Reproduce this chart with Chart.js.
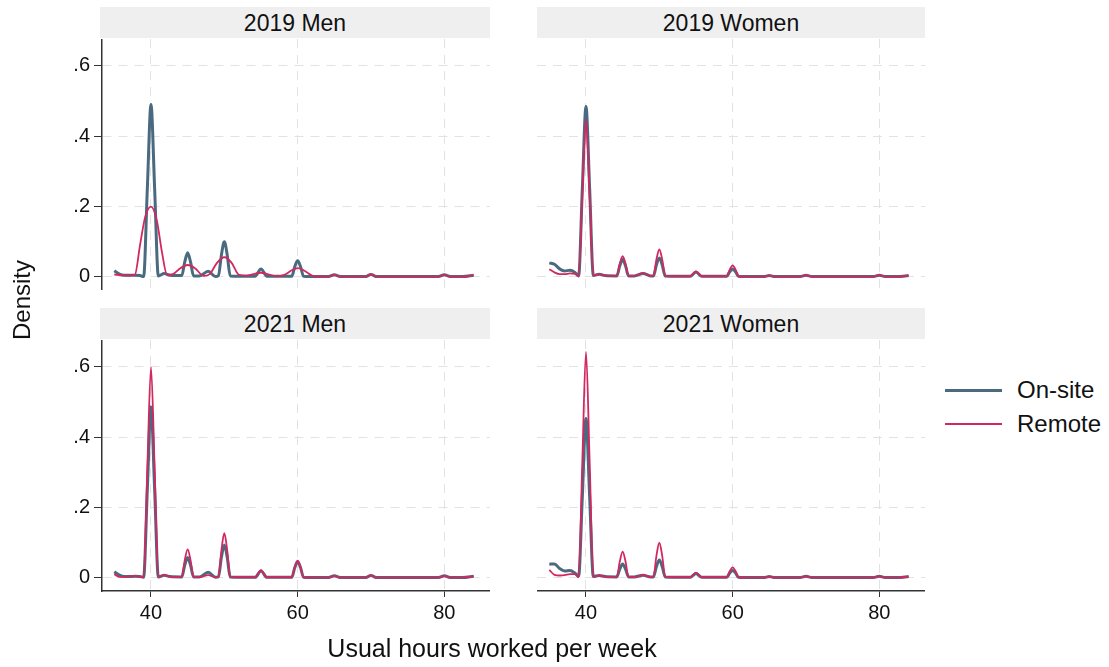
<!DOCTYPE html>
<html>
<head>
<meta charset="utf-8">
<script src="https://cdn.jsdelivr.net/npm/chart.js@4.4.1/dist/chart.umd.min.js"></script>
<style>
  body { margin: 0; background: #fff; font-family: "Liberation Sans", Arial, sans-serif; color: #111; }
  #page { position: relative; width: 1109px; height: 667px; overflow: hidden; }
  canvas { position: absolute; }
  .band { position: absolute; background: #efefef; height: 31px; font-size: 23px; line-height: 33px; text-align: center; color: #111; }
  .lbl { position: absolute; font-size: 25px; color: #111; white-space: nowrap; }
  .key { position: absolute; width: 57px; }
</style>
</head>
<body>
<div id="page">
  <div class="band" style="left:100px;top:7px;width:390px;">2019 Men</div>
  <div class="band" style="left:537px;top:7px;width:388px;">2019 Women</div>
  <div class="band" style="left:100px;top:308px;width:390px;">2021 Men</div>
  <div class="band" style="left:537px;top:308px;width:388px;">2021 Women</div>

  <canvas id="m19" width="460" height="251" style="left:30px;top:39px;"></canvas>
  <canvas id="w19" width="388" height="251" style="left:537px;top:39px;"></canvas>
  <canvas id="m21" width="460" height="301" style="left:30px;top:340px;"></canvas>
  <canvas id="w21" width="388" height="301" style="left:537px;top:340px;"></canvas>

  <div class="lbl" style="left:-18px;top:286px;transform:rotate(-90deg);transform-origin:center;width:80px;text-align:center;font-size:24px;">Density</div>
  <div class="lbl" style="left:292px;top:634px;width:400px;text-align:center;">Usual hours worked per week</div>

  <div class="key" style="left:945px;top:389px;height:3px;background:#4a6a80;"></div>
  <div class="lbl" style="left:1017px;top:376px;font-size:24px;">On-site</div>
  <div class="key" style="left:945px;top:423px;height:2px;background:#d2285f;"></div>
  <div class="lbl" style="left:1017px;top:410px;font-size:24px;">Remote</div>
</div>
<script>
// hours grid shared by most density curves
const hours = [35, 35.7, 36.4, 37.1, 37.8, 38.5, 39.0, 39.5, 40.0, 40.5, 41.0, 41.8, 42.6,
  44.2, 44.6, 45.0, 45.4, 45.8, 46.6, 47.8, 48.8, 49.2, 49.6, 50.0, 50.4, 50.8, 52.0,
  54.2, 55.0, 55.8, 57.5, 59.2, 59.6, 60.0, 60.4, 60.8, 62.5, 64.2, 65.0, 65.8,
  69.2, 70.0, 70.8, 75.0, 79.2, 80.0, 80.8, 82.5, 84.0];

const men2019OnSite = [0.018, 0.008, 0.005, 0.005, 0.005, 0.004, 0.001, 0.25, 0.490, 0.25, 0.003, 0.010, 0.005,
  0.004, 0.042, 0.069, 0.042, 0.003, 0.003, 0.016, 0.001, 0.004, 0.062, 0.100, 0.062, 0.003, 0.002,
  0.002, 0.023, 0.002, 0.002, 0.002, 0.029, 0.046, 0.029, 0.002, 0.001, 0.001, 0.006, 0.001,
  0.001, 0.007, 0.001, 0.001, 0.001, 0.006, 0.001, 0.001, 0.005];

// 2019 men remote is much smoother, own grid
const hoursMen2019Remote = [35, 36, 37, 37.8, 38.5, 39.2, 40, 40.8, 41.5, 42.2, 43, 44, 45, 46, 47.2,
  48, 49, 50, 51, 52, 53, 55, 57.2, 58.2, 59.2, 60, 60.8, 62.3, 64.2, 65, 65.8,
  69.2, 70, 70.8, 75, 79.2, 80, 80.8, 82.5, 84];
const men2019Remote = [0.007, 0.005, 0.004, 0.006, 0.090, 0.170, 0.200, 0.160, 0.070, 0.006, 0.008, 0.025, 0.034, 0.025, 0.003,
  0.008, 0.040, 0.056, 0.040, 0.006, 0.004, 0.012, 0.002, 0.006, 0.019, 0.025, 0.019, 0.002, 0.001, 0.006, 0.001,
  0.001, 0.007, 0.001, 0.001, 0.001, 0.006, 0.001, 0.001, 0.005];

const women2019OnSite = [0.040, 0.036, 0.023, 0.017, 0.019, 0.013, 0.003, 0.25, 0.484, 0.25, 0.004, 0.008, 0.004,
  0.003, 0.031, 0.050, 0.031, 0.003, 0.003, 0.010, 0.003, 0.003, 0.034, 0.054, 0.034, 0.003, 0.002,
  0.002, 0.014, 0.002, 0.002, 0.002, 0.015, 0.023, 0.015, 0.002, 0.001, 0.001, 0.004, 0.001,
  0.001, 0.005, 0.001, 0.001, 0.001, 0.005, 0.001, 0.001, 0.004];
const women2019Remote = [0.022, 0.013, 0.008, 0.008, 0.010, 0.009, 0.002, 0.23, 0.447, 0.23, 0.004, 0.008, 0.004,
  0.003, 0.037, 0.059, 0.037, 0.003, 0.003, 0.011, 0.003, 0.003, 0.049, 0.078, 0.049, 0.003, 0.002,
  0.002, 0.016, 0.002, 0.002, 0.002, 0.021, 0.033, 0.021, 0.002, 0.001, 0.001, 0.004, 0.001,
  0.001, 0.005, 0.001, 0.001, 0.001, 0.005, 0.001, 0.001, 0.004];

const men2021OnSite = [0.018, 0.008, 0.004, 0.004, 0.005, 0.004, 0.002, 0.25, 0.486, 0.25, 0.003, 0.008, 0.004,
  0.003, 0.036, 0.058, 0.036, 0.003, 0.003, 0.016, 0.002, 0.003, 0.058, 0.094, 0.058, 0.003, 0.002,
  0.002, 0.020, 0.002, 0.002, 0.002, 0.029, 0.046, 0.029, 0.002, 0.001, 0.001, 0.006, 0.001,
  0.001, 0.007, 0.001, 0.001, 0.001, 0.006, 0.001, 0.001, 0.005];
const men2021Remote = [0.011, 0.003, 0.003, 0.005, 0.005, 0.004, 0.002, 0.31, 0.599, 0.31, 0.003, 0.008, 0.004,
  0.003, 0.050, 0.081, 0.050, 0.003, 0.003, 0.008, 0.002, 0.003, 0.078, 0.127, 0.078, 0.003, 0.002,
  0.002, 0.022, 0.002, 0.002, 0.002, 0.030, 0.049, 0.030, 0.002, 0.001, 0.001, 0.006, 0.001,
  0.001, 0.007, 0.001, 0.001, 0.001, 0.006, 0.001, 0.001, 0.005];

const women2021OnSite = [0.039, 0.040, 0.027, 0.020, 0.021, 0.014, 0.005, 0.23, 0.453, 0.23, 0.004, 0.007, 0.004,
  0.003, 0.025, 0.040, 0.025, 0.003, 0.003, 0.008, 0.003, 0.003, 0.032, 0.051, 0.032, 0.003, 0.002,
  0.002, 0.013, 0.002, 0.002, 0.002, 0.014, 0.021, 0.014, 0.002, 0.001, 0.001, 0.004, 0.001,
  0.001, 0.005, 0.001, 0.001, 0.001, 0.005, 0.001, 0.001, 0.004];
const women2021Remote = [0.023, 0.009, 0.007, 0.008, 0.011, 0.011, 0.002, 0.33, 0.642, 0.33, 0.004, 0.007, 0.004,
  0.003, 0.046, 0.075, 0.046, 0.003, 0.003, 0.008, 0.003, 0.003, 0.062, 0.100, 0.062, 0.003, 0.002,
  0.002, 0.015, 0.002, 0.002, 0.002, 0.019, 0.030, 0.019, 0.002, 0.001, 0.001, 0.004, 0.001,
  0.001, 0.005, 0.001, 0.001, 0.001, 0.005, 0.001, 0.001, 0.004];

const xTicks = [40, 60, 80];
const yTicks = [0, 0.2, 0.4, 0.6];
const yTickLabels = ['0', '.2', '.4', '.6'];

const FONT = '"Liberation Sans", Arial, sans-serif';

function pts(xs, ys) {
  return ys.map((y, i) => ({ x: xs[i], y: y }));
}

function noPad(s) {
  s.paddingTop = 0; s.paddingBottom = 0; s.paddingLeft = 0; s.paddingRight = 0;
}

function drawPanel(id, onsite, remote, remoteHours, showY, showX) {
  new Chart(document.getElementById(id), {
    type: 'line',
    data: {
      datasets: [{
        label: 'Remote',
        data: pts(remoteHours, remote),
        borderColor: '#d2285f',
        borderWidth: 1.8,
        order: 0
      }, {
        label: 'On-site',
        data: pts(hours, onsite),
        borderColor: '#4a6a80',
        borderWidth: 3,
        order: 1
      }]
    },
    options: {
      responsive: false,
      animation: false,
      layout: { padding: 0, autoPadding: false },
      elements: { point: { radius: 0 }, line: { cubicInterpolationMode: 'monotone' } },
      plugins: { legend: { display: false }, tooltip: { enabled: false } },
      scales: {
        x: {
          type: 'linear',
          min: 33.32,
          max: 86.23,
          afterBuildTicks: s => { s.ticks = xTicks.map(v => ({ value: v })); },
          afterFit: s => { s.height = showX ? 50 : 0; noPad(s); },
          grid: { color: '#e2e2e2', lineWidth: 1, drawTicks: showX, tickLength: 6, tickColor: '#333', tickBorderDash: [] },
          border: { display: showX, color: '#333', width: 1.5, dash: [9, 7] },
          ticks: { display: showX, font: { family: FONT, size: 20 }, color: '#111', padding: 4, maxRotation: 0 }
        },
        y: {
          min: -0.037,
          max: 0.676,
          afterBuildTicks: s => { s.ticks = yTicks.map(v => ({ value: v })); },
          afterFit: s => { s.width = showY ? 72 : 0; noPad(s); },
          grid: { color: '#e2e2e2', lineWidth: 1, drawTicks: showY, tickLength: 8, tickColor: '#333', tickBorderDash: [] },
          border: { display: showY, color: '#333', width: 1.5, dash: [9, 7] },
          ticks: {
            display: showY,
            font: { family: FONT, size: 20 },
            color: '#111',
            padding: 4,
            callback: v => yTickLabels[yTicks.indexOf(v)]
          }
        }
      }
    }
  });
}

drawPanel('m19', men2019OnSite, men2019Remote, hoursMen2019Remote, true, false);
drawPanel('w19', women2019OnSite, women2019Remote, hours, false, false);
drawPanel('m21', men2021OnSite, men2021Remote, hours, true, true);
drawPanel('w21', women2021OnSite, women2021Remote, hours, false, true);
</script>
</body>
</html>
